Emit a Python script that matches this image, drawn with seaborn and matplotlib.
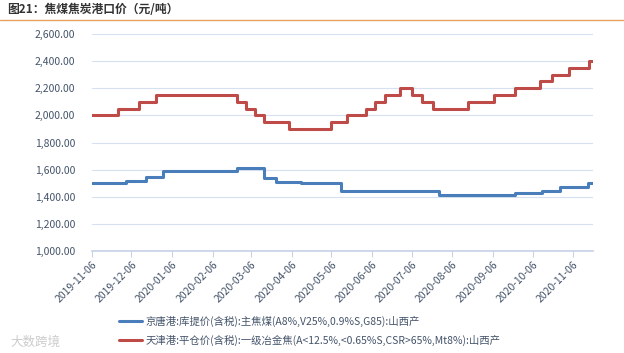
import pandas as pd
import matplotlib.pyplot as plt
import matplotlib.dates as mdates
from matplotlib.ticker import FuncFormatter
import seaborn as sns

# 京唐港 主焦煤 (变动日期, 价格)
blue_dates = ["2019-11-06", "2019-12-02", "2019-12-17", "2019-12-30", "2020-02-24",
              "2020-03-16", "2020-03-25", "2020-04-13", "2020-05-13", "2020-07-27",
              "2020-09-23", "2020-10-13", "2020-10-27", "2020-11-17", "2020-11-21"]
blue_vals = [1500, 1515, 1545, 1590, 1610,
             1540, 1510, 1500, 1440, 1410,
             1425, 1440, 1470, 1500, 1500]

# 天津港 一级冶金焦 (变动日期, 价格)
red_dates = ["2019-11-06", "2019-11-26", "2019-12-12", "2019-12-25", "2020-02-24",
             "2020-03-02", "2020-03-09", "2020-03-16", "2020-04-04", "2020-05-06",
             "2020-05-18", "2020-06-01", "2020-06-08", "2020-06-16", "2020-06-27",
             "2020-07-06", "2020-07-14", "2020-07-22", "2020-08-18", "2020-09-07",
             "2020-09-23", "2020-10-12", "2020-10-21", "2020-11-03", "2020-11-18",
             "2020-11-21"]
red_vals = [2000, 2050, 2100, 2150, 2100,
            2050, 2000, 1950, 1900, 1950,
            2000, 2050, 2100, 2150, 2200,
            2150, 2100, 2050, 2100, 2150,
            2200, 2250, 2300, 2350, 2400,
            2400]

blue_label = "京唐港:库提价(含税):主焦煤(A8%,V25%,0.9%S,G85):山西产"
red_label = "天津港:平仓价(含税):一级冶金焦(A<12.5%,<0.65%S,CSR>65%,Mt8%):山西产"
tick_dates = pd.date_range("2019-11-01", "2020-11-06", freq="MS") + pd.Timedelta(days=5)

sns.set_theme(style="white")
plt.rcParams["font.family"] = ["Noto Sans CJK SC", "DejaVu Sans"]
plt.rcParams["axes.unicode_minus"] = False

df_b = pd.DataFrame({"date": pd.to_datetime(blue_dates), "price": blue_vals})
df_r = pd.DataFrame({"date": pd.to_datetime(red_dates), "price": red_vals})

fig = plt.figure(figsize=(6.24, 3.53), dpi=100)
ax = fig.add_axes([92 / 624, 1 - 251 / 353, (593 - 92) / 624, (251 - 34) / 353])

sns.lineplot(data=df_b, x="date", y="price", ax=ax, color="#4a7ebb", lw=2.2,
             drawstyle="steps-post", label=blue_label)
sns.lineplot(data=df_r, x="date", y="price", ax=ax, color="#be4b48", lw=2.2,
             drawstyle="steps-post", label=red_label)

ax.set_ylim(1000, 2600)
ax.set_yticks(range(1000, 2601, 200))
ax.yaxis.set_major_formatter(FuncFormatter(lambda v, p: f"{v:,.2f}"))
ax.set_xlim(pd.Timestamp("2019-11-06"), pd.Timestamp("2020-11-21"))
ax.set_xticks(tick_dates)
ax.xaxis.set_major_formatter(mdates.DateFormatter("%Y-%m-%d"))
ax.set_xlabel("")
ax.set_ylabel("")

lab_color = "#44546a"
ax.tick_params(axis="y", labelsize=7.5, colors=lab_color, length=0, pad=12)
ax.tick_params(axis="x", labelsize=7.5, colors=lab_color, length=4, width=0.8,
               direction="out", bottom=True, color="#c9d3e6", pad=2)
for t in ax.get_xticklabels():
    t.set_rotation(45)
    t.set_ha("right")
    t.set_rotation_mode("anchor")

ax.grid(axis="y", color="#d6e0f0", lw=0.8)
for s in ["top", "right", "left"]:
    ax.spines[s].set_visible(False)
ax.spines["bottom"].set_color("#c9d3e6")

ax.legend(loc="upper left", bbox_to_anchor=(110 / 624, 1 - 306 / 353),
          bbox_transform=fig.transFigure, frameon=False, fontsize=7.5,
          handlelength=2.2, handletextpad=0.3, labelspacing=0.75,
          labelcolor=lab_color)

fig.text(0.012, 0.972, "图21：焦煤焦炭港口价（元/吨）", fontsize=8.5,
         fontweight="bold", color="#333333", va="center")
fig.add_artist(plt.Line2D([0, 1], [1 - 20 / 353, 1 - 20 / 353],
                          color="#e8a060", lw=1.0, transform=fig.transFigure))
fig.text(10 / 624, 1 - 342 / 353, "大数跨境", fontsize=9, color="#cccccc", va="center")

fig.savefig("out.png", dpi=100)
